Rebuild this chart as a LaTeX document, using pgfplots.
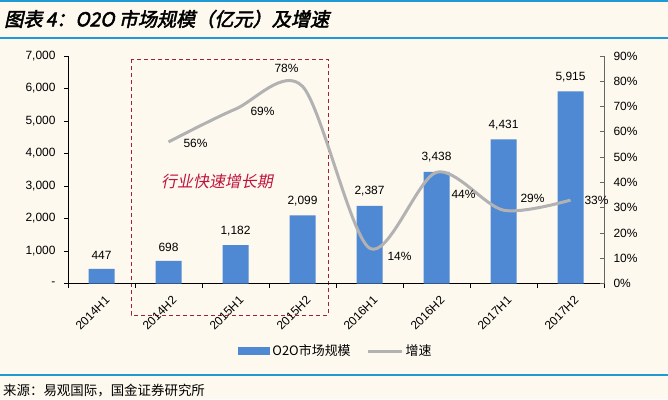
\documentclass[border=0pt]{standalone}
\usepackage{pgfplots}
\pgfplotsset{compat=1.18}
\usepackage{fontspec}
\setmainfont{Liberation Sans}
\newfontfamily\cjk{Noto Sans CJK SC}
\newfontfamily\cjkit{Noto Sans CJK SC}[FakeSlant=0.2]
\newfontfamily\cjktitle{Noto Sans CJK SC}[FakeSlant=0.22, FakeBold=2.5]
\definecolor{bg}{HTML}{FDF9EF}
\definecolor{topblue}{HTML}{1E9AD6}
\definecolor{barblue}{HTML}{4F88D3}
\definecolor{lncol}{HTML}{B2B2B2}
\definecolor{dashcol}{HTML}{A0203C}
\definecolor{redtxt}{HTML}{C0143C}
\pgfplotstableread{
x y
0 447
1 698
2 1182
3 2099
4 2387
5 3438
6 4431
7 5915
}\sizetable
\pgfplotstableread{
x y dx dy
1 56 27 -1
2 69 27 -2
3 78 -16 18
4 14 30 -8
5 44 27 -22
6 29 29 12
7 33 26 0
}\growthtable
\begin{document}
\begin{tikzpicture}[x=1bp,y=1bp]
\useasboundingbox (0,0) rectangle (668,399);
\fill[bg] (0,0) rectangle (668,399);
\draw[topblue, line width=2bp] (0,398)--(668,398);
\draw[topblue, line width=2bp] (0,361.5)--(668,361.5);
\draw[topblue, line width=2bp] (0,24)--(668,24);
\node[anchor=west, inner sep=0] at (4,380) {\fontsize{19.2}{19.2}\cjktitle 图表\,4：O2O 市场规模（亿元）及增速};
\node[anchor=west, inner sep=0] at (3,8) {\fontsize{13.5}{13.5}\cjk 来源：易观国际，国金证券研究所};
\draw[dashcol, line width=0.9bp, dash pattern=on 4bp off 3bp] (131,340) rectangle (328,84);
\node[redtxt] at (217,218) {\fontsize{16}{16}\cjkit 行业快速增长期};
\begin{axis}[
  at={(68bp,115.5bp)}, anchor=south west, scale only axis,
  width=536bp, height=227.5bp,
  xmin=-0.5, xmax=7.5, ymin=0, ymax=7000,
  clip=false,
  axis x line*=bottom, axis y line*=left,
  axis line style={black, line width=0.7bp},
  xtick={0,...,7},
  xticklabels={2014H1,2014H2,2015H1,2015H2,2016H1,2016H2,2017H1,2017H2},
  major x tick style={draw=none},
  minor xtick={-0.5,0.5,...,7.5},
  minor x tick style={black, line width=0.7bp},
  minor tick length=4bp,
  major tick length=4bp,
  tick align=outside,
  xticklabel style={rotate=45, anchor=north east, font=\fontsize{12}{12}\selectfont, yshift=-4bp},
  ytick={0,1000,...,7000},
  yticklabels={{-},{1,000},{2,000},{3,000},{4,000},{5,000},{6,000},{7,000}},
  yticklabel style={font=\fontsize{12}{12}\selectfont, xshift=-5bp},
  y tick style={black, line width=0.7bp},
  legend style={at={(0.5,-0.297)}, anchor=center, draw=none, fill=none,
    legend columns=2, font=\fontsize{13}{13}\cjk,
    /tikz/every even column/.append style={column sep=14bp},
    legend cell align=left},
]
\addplot[ybar, bar width=26bp, fill=barblue, draw=none,
  legend image code/.code={\fill[barblue] (0bp,-4bp) rectangle (32bp,4bp);},
  nodes near coords={\pgfmathprintnumber[assume math mode=true, 1000 sep={,}]{\pgfplotspointmeta}},
  every node near coord/.append style={font=\fontsize{12}{12}\selectfont, black, yshift=6bp},
] table[x=x, y=y] {\sizetable};
\addlegendentry{O2O市场规模}
\addlegendimage{lncol, line width=3bp, legend image code/.code={\draw[lncol, line width=3bp] (0bp,0bp)--(34bp,0bp);}}
\addlegendentry{增速}
\end{axis}
\begin{axis}[
  at={(68bp,115.5bp)}, anchor=south west, scale only axis,
  width=536bp, height=227.5bp,
  xmin=-0.5, xmax=7.5, ymin=0, ymax=90,
  clip=false,
  axis x line=none, axis y line*=right,
  axis line style={black!60, line width=0.7bp},
  ytick={0,10,...,90},
  yticklabel={\pgfmathprintnumber[assume math mode=true]{\tick}\%},
  yticklabel style={font=\fontsize{12}{12}\selectfont, xshift=6bp},
  y tick style={black!60, line width=0.7bp},
  major tick length=4bp,
  tick align=inside,
]
\addplot[smooth, lncol, line width=3bp,
  visualization depends on={\thisrow{dx} \as \dx},
  visualization depends on={\thisrow{dy} \as \dy},
  nodes near coords={\pgfmathprintnumber[assume math mode=true]{\pgfplotspointmeta}\%},
  every node near coord/.append style={font=\fontsize{12}{12}\selectfont, black, anchor=center, xshift=\dx bp, yshift=\dy bp},
] table[x=x, y=y] {\growthtable};
\end{axis}
\end{tikzpicture}
\end{document}
